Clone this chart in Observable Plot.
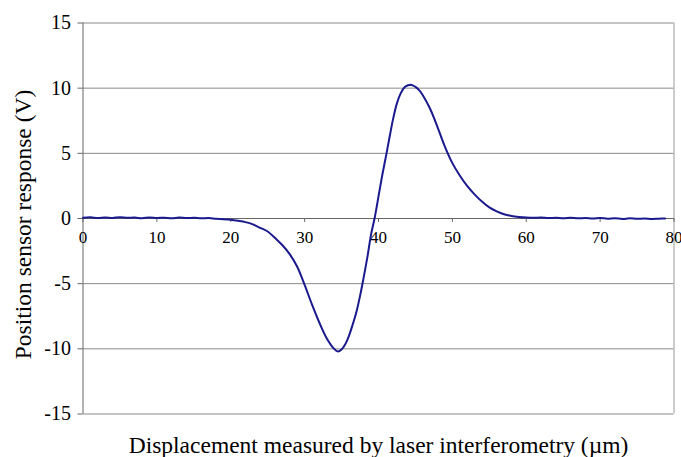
<!DOCTYPE html>
<html>
<head>
<meta charset="utf-8">
<script src="https://cdn.jsdelivr.net/npm/d3@7"></script>
<script src="https://cdn.jsdelivr.net/npm/@observablehq/plot@0.6"></script>
<style>
  html, body { margin: 0; padding: 0; background: white; }
  svg text { font-family: "Liberation Serif", serif; }
</style>
</head>
<body>
<div id="chart"></div>
<script>
const displacement = [0,1,2,3,4,5,6,7,8,9,10,11,12,13,14,15,16,17,18,19,
  20,21,22,23,24,25,26,27,28,29,30,31,32,33,34,34.5,35,35.5,36,36.5,37,37.5,38,38.5,39,39.5,
  40,40.5,41,41.5,42,42.5,43,43.5,44,44.5,45,45.5,46,47,48,49,50,51,52,53,54,55,56,57,58,59,
  60,61,62,63,64,65,66,67,68,69,70,71,72,73,74,75,76,77,78,78.8];
const response = [0.05,0.09,0.03,0.08,0.04,0.1,0.05,0.07,0.02,0.08,0.04,0.06,0.02,0.07,0.03,0.05,0.01,0.03,-0.02,-0.05,
  -0.1,-0.18,-0.28,-0.45,-0.72,-1.0,-1.5,-2.05,-2.75,-3.7,-5.1,-6.6,-8.0,-9.2,-10.0,-10.2,-10.05,-9.65,-9.0,-8.15,-7.2,-5.95,-4.5,-2.95,-1.2,0.1,
  1.7,3.3,4.75,6.25,7.7,8.85,9.6,10.05,10.22,10.25,10.1,9.85,9.45,8.4,7.0,5.5,4.25,3.3,2.5,1.85,1.3,0.85,0.55,0.33,0.2,0.12,
  0.07,0.05,0.08,0.03,0.06,0.02,0.05,0.01,0.04,0.0,0.03,-0.01,0.02,-0.03,0.01,-0.02,0.0,-0.03,-0.01,0.0];

const xTicks = [0,10,20,30,40,50,60,70,80];
const xTickLabels = ["0","10","20","30","40","50","60","70","80"];
const yTicks = [-15,-10,-5,0,5,10,15];
const yTickLabels = ["-15","-10","-5","0","5","10","15"];
const xTitle = "Displacement measured by laser interferometry (\u00b5m)";
const yTitle = "Position sensor response (V)";

const serif = "Liberation Serif";
const data = displacement.map((d, i) => ({x: d, y: response[i]}));
const xTickData = xTicks.map((t, i) => ({x: t, label: xTickLabels[i]}));

const chart = Plot.plot({
  width: 681,
  height: 457,
  marginLeft: 82.5,
  marginRight: 7.5,
  marginTop: 22.5,
  marginBottom: 43.5,
  style: {fontFamily: serif, background: "white", color: "black"},
  x: {domain: [0, 80], axis: null},
  y: {domain: [-15, 15]},
  marks: [
    Plot.gridY(yTicks, {stroke: "#8a8a8a", strokeOpacity: 1}),
    Plot.ruleX([80], {stroke: "#9a9a9a"}),
    Plot.ruleX([0], {stroke: "#666"}),
    Plot.axisY(yTicks, {tickSize: 5, tickPadding: 7, fontSize: 20, fontFamily: serif, label: null, stroke: "#666",
      tickFormat: d => yTickLabels[yTicks.indexOf(d)]}),
    Plot.ruleY([0], {stroke: "#666"}),
    Plot.ruleX(xTickData, {x: "x", y1: 0, y2: -0.3, stroke: "#666"}),
    Plot.text(xTickData, {x: "x", y: 0, text: "label", dy: 19, fontSize: 17, fontFamily: serif}),
    Plot.line(data, {x: "x", y: "y", stroke: "#1a1a8e", strokeWidth: 2, curve: "catmull-rom"}),
    Plot.text([yTitle], {frameAnchor: "left", textAnchor: "middle", lineAnchor: "middle", rotate: -90, dx: -60, dy: 6, fontSize: 23.5, fontFamily: serif}),
    Plot.text([xTitle], {frameAnchor: "bottom", textAnchor: "middle", lineAnchor: "middle", dx: 0, dy: 31, fontSize: 23.5, fontFamily: serif})
  ]
});
document.getElementById("chart").appendChild(chart);
</script>
</body>
</html>
